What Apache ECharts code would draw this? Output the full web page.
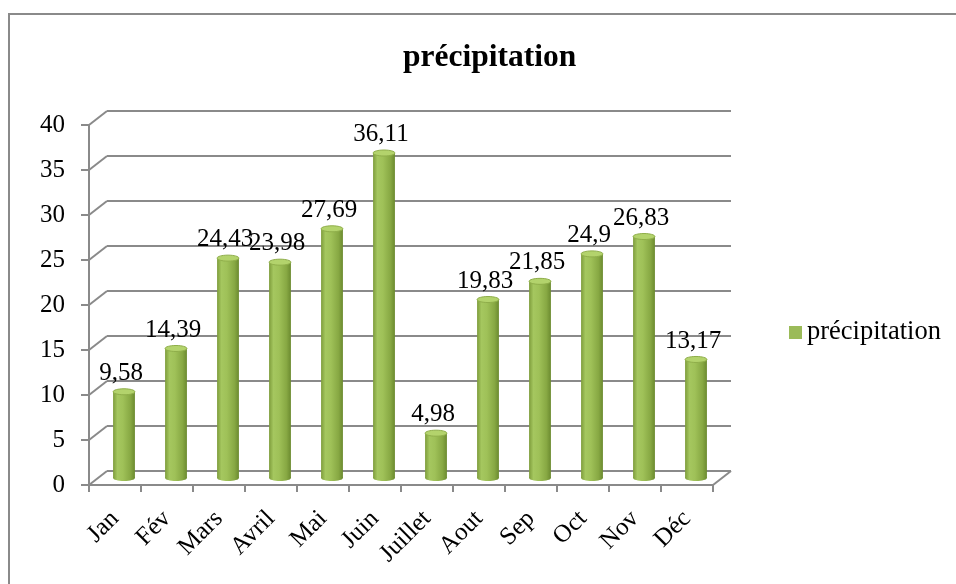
<!DOCTYPE html>
<html>
<head>
<meta charset="utf-8">
<script src="https://cdn.jsdelivr.net/npm/echarts@6/dist/echarts.min.js"></script>
<style>
  html, body { margin: 0; padding: 0; background: #fff; }
  #chart { width: 956px; height: 584px; }
</style>
</head>
<body>
<div id="chart"></div>
<script>
// Monthly precipitation
const months = ['Jan', 'Fév', 'Mars', 'Avril', 'Mai', 'Juin', 'Juillet', 'Aout', 'Sep', 'Oct', 'Nov', 'Déc'];
const precipitation = [9.58, 14.39, 24.43, 23.98, 27.69, 36.11, 4.98, 19.83, 21.85, 24.9, 26.83, 13.17];
const yTicks = [0, 5, 10, 15, 20, 25, 30, 35, 40];
const seriesName = 'précipitation';

// Pseudo-3D depth: offset of the back wall from the front plane, in pixels
const DEPTH_X = 18, DEPTH_Y = -14;
const FRONT = { left: 89, right: 243, top: 125, bottom: 99 };
function shifted(f) {
  return {
    left: FRONT.left + DEPTH_X * f,
    right: FRONT.right - DEPTH_X * f,
    top: FRONT.top + DEPTH_Y * f,
    bottom: FRONT.bottom - DEPTH_Y * f,
    containLabel: false,
    outerBoundsMode: 'none'
  };
}

const SERIF = '"Liberation Serif", "Times New Roman", serif';
const GRID_COLOR = '#8a8a8a';
const lineStyle = { color: GRID_COLOR, width: 2 };

const yMin = yTicks[0], yMax = yTicks[yTicks.length - 1], yStep = yTicks[1] - yTicks[0];
function valueAxis(gridIndex, extra) {
  return Object.assign({
    type: 'value', gridIndex, min: yMin, max: yMax, interval: yStep,
    axisLine: { show: false }, axisTick: { show: false },
    axisLabel: { show: false }, splitLine: { show: false }
  }, extra);
}
function categoryAxis(gridIndex, extra) {
  return Object.assign({
    type: 'category', gridIndex, data: months,
    axisLine: { show: false }, axisTick: { show: false },
    axisLabel: { show: false }, splitLine: { show: false }
  }, extra);
}

const chart = echarts.init(document.getElementById('chart'));

chart.setOption({
  animation: false,
  backgroundColor: '#fff',
  title: {
    text: seriesName,
    left: 403, top: 42, padding: 0,
    textStyle: { fontFamily: SERIF, fontWeight: 'bold', fontSize: 31.5, color: '#000' }
  },
  legend: {
    data: [seriesName],
    left: 789, top: 319, padding: 0,
    icon: 'rect', itemWidth: 13, itemHeight: 13, itemGap: 6,
    textStyle: { fontFamily: SERIF, fontSize: 26.5, color: '#000' }
  },
  graphic: [{
    type: 'rect', silent: true, z: -10,
    shape: { x: 9, y: 14, width: 1000, height: 1000 },
    style: { fill: 'none', stroke: GRID_COLOR, lineWidth: 2 }
  }],
  // 0: front plane (axes), 1: back wall (gridlines), 2: mid depth (columns)
  grid: [shifted(0), shifted(1), shifted(0.5)],
  xAxis: [
    categoryAxis(0, {
      axisLine: { show: true, lineStyle },
      axisTick: { show: true, length: 7, lineStyle },
      axisLabel: {
        show: true, rotate: 45, margin: 30, interval: 0,
        fontFamily: SERIF, fontSize: 25, color: '#000'
      }
    }),
    categoryAxis(1),
    categoryAxis(2)
  ],
  yAxis: [
    valueAxis(0, {
      axisLine: { show: true, lineStyle },
      axisTick: { show: true, length: 8, lineStyle },
      axisLabel: { show: true, margin: 24, fontFamily: SERIF, fontSize: 25, color: '#000' }
    }),
    valueAxis(1, { splitLine: { show: true, lineStyle } }),
    valueAxis(2)
  ],
  series: [
    {
      // diagonal depth edges joining the front axis to the back gridlines
      type: 'custom', name: 'frame', silent: true,
      xAxisIndex: 0, yAxisIndex: 0,
      data: yTicks.map(v => [v]),
      encode: { y: 0 },
      renderItem(params, api) {
        const cs = params.coordSys;
        const v = api.value(0);
        const y = api.coord([0, v])[1];
        const children = [{
          type: 'line',
          shape: { x1: cs.x, y1: y, x2: cs.x + DEPTH_X, y2: y + DEPTH_Y },
          style: { stroke: GRID_COLOR, lineWidth: 2 }
        }];
        if (v === yMin) {
          const xr = cs.x + cs.width;
          children.push({
            type: 'line',
            shape: { x1: xr, y1: y, x2: xr + DEPTH_X, y2: y + DEPTH_Y },
            style: { stroke: GRID_COLOR, lineWidth: 2 }
          });
        }
        return { type: 'group', children };
      }
    },
    {
      // cylindrical columns with value labels
      type: 'custom', name: seriesName,
      xAxisIndex: 2, yAxisIndex: 2,
      itemStyle: { color: '#9BBB59' },
      data: precipitation.map((v, i) => [i, v]),
      encode: { x: 0, y: 1 },
      z: 5,
      renderItem(params, api) {
        const i = api.value(0), v = api.value(1);
        const top = api.coord([i, v]);
        const base = api.coord([i, yMin]);
        const w = api.size([1, 0])[0] * 0.42;
        const cx = top[0], x0 = cx - w / 2;
        const ry = 3;
        const body = {
          type: 'linear', x: 0, y: 0, x2: 1, y2: 0,
          colorStops: [
            { offset: 0, color: '#7d9c3b' },
            { offset: 0.2, color: '#a5c75f' },
            { offset: 0.45, color: '#9fc158' },
            { offset: 0.8, color: '#87a843' },
            { offset: 1, color: '#6b8a2f' }
          ]
        };
        return {
          type: 'group',
          children: [
            { type: 'ellipse', shape: { cx, cy: base[1], rx: w / 2, ry }, style: { fill: body } },
            { type: 'rect', shape: { x: x0, y: top[1], width: w, height: base[1] - top[1] }, style: { fill: body } },
            {
              type: 'ellipse', shape: { cx, cy: top[1], rx: w / 2, ry },
              style: { fill: '#b3d36c', stroke: '#8fae4a', lineWidth: 1 }
            },
            {
              type: 'text',
              style: {
                text: String(v).replace('.', ','),
                x: cx - 3, y: top[1] - 6,
                align: 'center', verticalAlign: 'bottom',
                font: '25px ' + SERIF, fill: '#000'
              }
            }
          ]
        };
      }
    }
  ]
});
</script>
</body>
</html>
